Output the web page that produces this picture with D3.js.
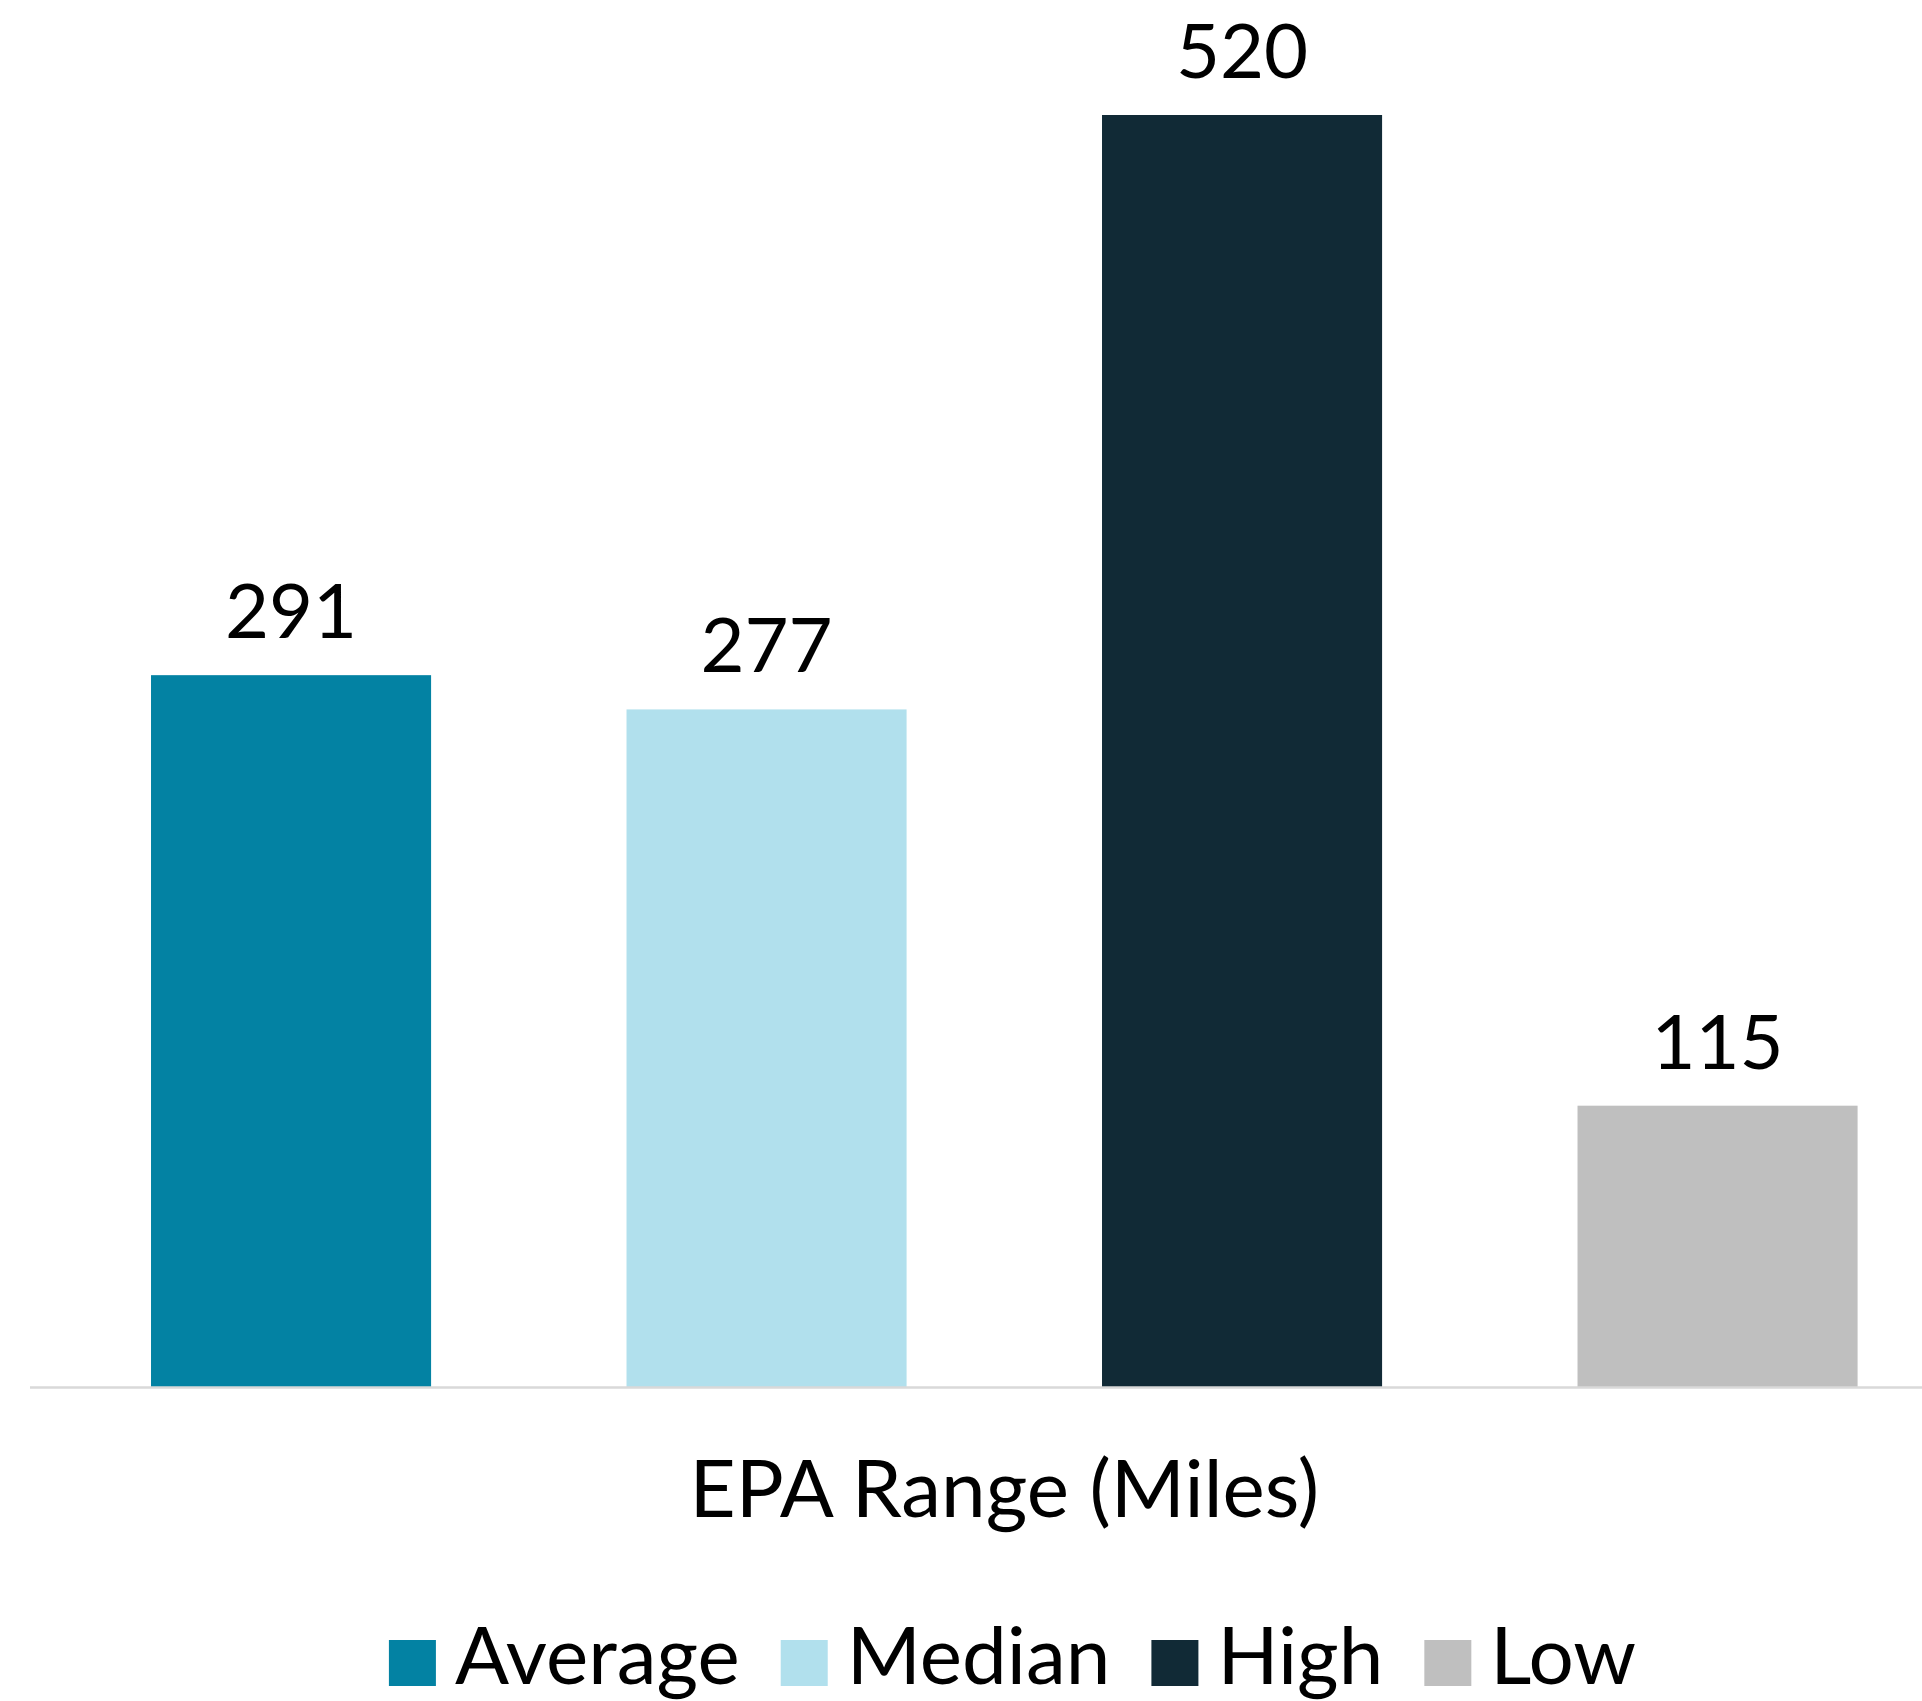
<!DOCTYPE html>
<html>
<head>
<meta charset="utf-8">
<script src="https://cdn.jsdelivr.net/npm/d3@7"></script>
<style>
  html, body { margin: 0; padding: 0; background: #ffffff; }
  svg { display: block; }
  text { font-family: Lato, "Noto Sans", sans-serif; fill: #000; }
</style>
</head>
<body>
<svg id="chart" width="1922" height="1701"></svg>
<script>
// ---- data ----
const categories = ["Average", "Median", "High", "Low"];
const values = [291, 277, 520, 115];
const colors = ["#0382a3", "#b1e0ed", "#112a36", "#bfbfbf"];
const axisTitle = "EPA Range (Miles)";

// ---- layout ----
const W = 1922, H = 1701;
const baseY = 1387;
const topY = 115;
const numSize = 76;
const textSize = 80;

const svg = d3.select("#chart");

const x = d3.scaleBand()
  .domain(categories)
  .range([53.3, 1955.3])
  .paddingInner(0.411)
  .paddingOuter(0.2055);

const y = d3.scaleLinear()
  .domain([0, 520])
  .range([baseY, topY]);

const data = categories.map((c, i) => ({ cat: c, value: values[i], color: colors[i] }));

// bars
svg.append("g").selectAll("rect")
  .data(data)
  .join("rect")
  .attr("x", d => x(d.cat))
  .attr("y", d => y(d.value))
  .attr("width", x.bandwidth())
  .attr("height", d => baseY - y(d.value))
  .attr("fill", d => d.color);

// baseline axis
const axis = d3.axisBottom(x).tickSize(0).tickFormat("");
const axisG = svg.append("g")
  .attr("transform", `translate(0,${baseY})`)
  .call(axis);
axisG.select(".domain").remove();
axisG.append("line")
  .attr("x1", 30).attr("x2", W)
  .attr("y1", 0.5).attr("y2", 0.5)
  .attr("stroke", "#d9d9d9")
  .attr("stroke-width", 2.5);

// value labels
svg.append("g").selectAll("text")
  .data(data)
  .join("text")
  .attr("x", d => x(d.cat) + x.bandwidth() / 2)
  .attr("y", d => y(d.value) - 37)
  .attr("text-anchor", "middle")
  .attr("font-size", numSize)
  .text(d => d.value);

// axis title
const xr = x.range();
svg.append("text")
  .attr("x", (xr[0] + xr[1]) / 2)
  .attr("y", 1517)
  .attr("text-anchor", "middle")
  .attr("font-size", textSize)
  .text(axisTitle);

// legend
const legend = svg.append("g");
const sw = 47, gapSwText = 19, gapItem = 41;
const items = legend.selectAll("g.item")
  .data(data)
  .join("g")
  .attr("class", "item");
items.append("rect")
  .attr("width", sw).attr("height", 46)
  .attr("y", 1640)
  .attr("fill", d => d.color);
items.append("text")
  .attr("x", sw + gapSwText)
  .attr("y", 1684)
  .attr("font-size", textSize)
  .text(d => d.cat);
let widths = [];
items.each(function() {
  widths.push(d3.select(this).select("text").node().getComputedTextLength());
});
const total = widths.reduce((a, w) => a + sw + gapSwText + w, 0) + gapItem * (widths.length - 1);
let cx = 1012.5 - total / 2;
items.each(function(d, i) {
  d3.select(this).attr("transform", `translate(${cx},0)`);
  cx += sw + gapSwText + widths[i] + gapItem;
});
</script>
</body>
</html>
